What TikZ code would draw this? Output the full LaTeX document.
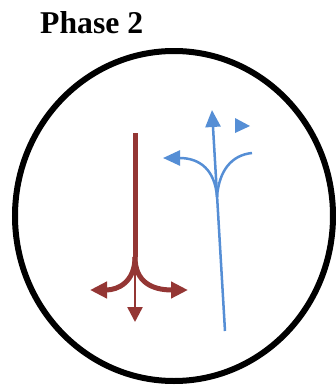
\documentclass[tikz,border=0pt]{standalone}
\usepackage{fontspec}
\setmainfont{Liberation Serif}
\usetikzlibrary{arrows.meta}
\definecolor{redarrow}{RGB}{148,54,52}
\definecolor{bluearrow}{RGB}{85,142,213}
\tikzset{
  redline/.style={draw=redarrow, line width=5pt},
  redthin/.style={draw=redarrow, line width=2.5pt},
  blueline/.style={draw=bluearrow, line width=2.5pt},
  redtip/.style={-{Triangle[length=17pt,width=16pt]}},
  bluetip/.style={-{Triangle[length=17pt,width=15pt]}},
}
\begin{document}
\begin{tikzpicture}[x=1pt,y=-1pt]
\useasboundingbox (0,0) rectangle (336,386);
\node[anchor=base west, font=\bfseries\fontsize{31.7}{36}\selectfont, inner sep=0] (title) at (40,33) {Phase 2};
\draw[line width=6pt] (174,216) ellipse [x radius=159pt, y radius=165pt];
% red
\coordinate (rtop) at (135,133);
\coordinate (rj) at (135,257);
\coordinate (rleft) at (90,290);
\coordinate (rright) at (188,290);
\coordinate (rdown) at (135,322);
\draw[redline] (rtop) -- (rj);
\draw[redline, redtip] (rj) .. controls (135,282) and (118,290) .. (rleft);
\draw[redline, redtip] (rj) .. controls (135,282) and (152,290) .. (rright);
\draw[redthin, -{Triangle[length=15pt,width=15pt]}] (rj) -- (rdown);
% blue
\coordinate (bbot) at (225,331);
\coordinate (btop) at (212,110);
\coordinate (bj) at (217,197);
\coordinate (bleft) at (163,158);
\coordinate (bright) at (252,153);
\draw[blueline, bluetip] (bbot) -- (btop);
\draw[blueline, bluetip] (bj) .. controls (215,170) and (200,158) .. (bleft);
\draw[blueline] (bj) .. controls (219,170) and (232,155) .. (bright);
\fill[bluearrow] (235,118) -- (250,126) -- (235,133) -- cycle;
\end{tikzpicture}
\end{document}
